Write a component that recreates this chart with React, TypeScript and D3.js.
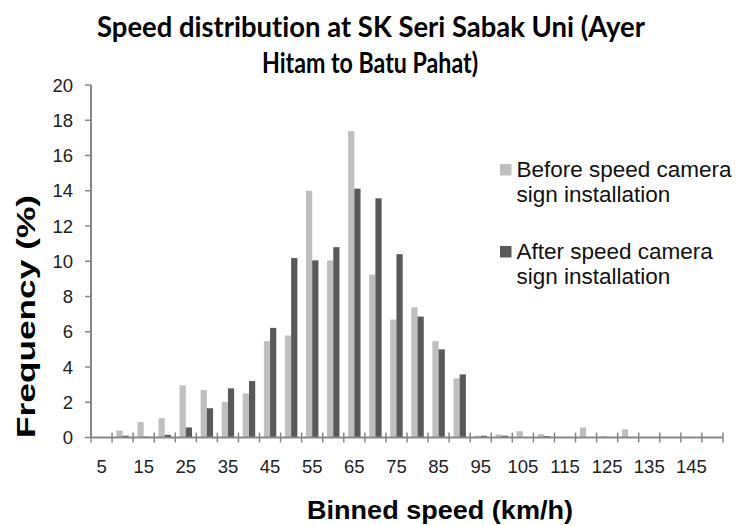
import * as d3 from "d3";
import { useEffect, useRef } from "react";

const CATEGORIES: number[] = d3.range(5, 155, 5);

const BEFORE: number[] = [
  0, 0.4, 0.88, 1.1, 2.96, 2.7, 2.02, 2.5, 5.47, 5.79, 14.0, 10.05, 17.38, 9.24, 6.69,
  7.39, 5.47, 3.36, 0.1, 0.17, 0.36, 0.19, 0, 0.57, 0.08, 0.47, 0, 0, 0, 0,
];

const AFTER: number[] = [
  0, 0.1, 0.05, 0.15, 0.57, 1.66, 2.79, 3.2, 6.22, 10.18, 10.05, 10.8, 14.12, 13.57, 10.4,
  6.86, 5.0, 3.58, 0.1, 0.1, 0, 0.08, 0, 0, 0, 0, 0, 0, 0, 0,
];

const Y_TICKS: number[] = d3.range(0, 22, 2);
const X_LABELS: number[] = d3.range(5, 150, 10);

const SERIES = [
  { key: "before", values: BEFORE, color: "#bfbfbf", label: ["Before speed camera", "sign installation"] },
  { key: "after", values: AFTER, color: "#595959", label: ["After speed camera", "sign installation"] },
];

const WIDTH = 738;
const HEIGHT = 525;
const AXIS_COLOR = "#878787";
const SANS = "'Liberation Sans', Arial, sans-serif";

export default function App() {
  const svgRef = useRef<SVGSVGElement>(null);

  useEffect(() => {
    if (!svgRef.current) return;
    const svg = d3.select(svgRef.current);
    svg.selectAll("*").remove();

    const plot = { left: 91, right: 723, top: 85, bottom: 437.5 };

    const x = d3
      .scaleBand<number>()
      .domain(CATEGORIES)
      .range([plot.left, plot.right])
      .padding(0);
    const bw = x.bandwidth();

    // two bars per bin, centred in the band
    const xSub = d3
      .scaleBand<string>()
      .domain(SERIES.map((s) => s.key))
      .range([bw * 0.205, bw * 0.795])
      .padding(0);

    const y = d3.scaleLinear().domain([0, 20]).range([plot.bottom, plot.top]);

    // Title
    const title = svg
      .append("g")
      .style("font-family", "Lato, 'Open Sans', sans-serif")
      .style("font-weight", "700")
      .style("font-variant-ligatures", "none")
      .style("fill", "#000");
    title
      .append("text")
      .attr("x", 371)
      .attr("y", 37)
      .attr("text-anchor", "middle")
      .attr("textLength", 548)
      .attr("lengthAdjust", "spacingAndGlyphs")
      .style("font-size", "29px")
      .text("Speed distribution at SK Seri Sabak Uni (Ayer");
    title
      .append("text")
      .attr("x", 370)
      .attr("y", 73)
      .attr("text-anchor", "middle")
      .attr("textLength", 216)
      .attr("lengthAdjust", "spacingAndGlyphs")
      .style("font-size", "29px")
      .text("Hitam to Batu Pahat)");

    // Bars
    SERIES.forEach((s) => {
      svg
        .append("g")
        .selectAll("rect")
        .data(s.values)
        .join("rect")
        .attr("x", (_, i) => (x(CATEGORIES[i]) ?? 0) + (xSub(s.key) ?? 0))
        .attr("width", xSub.bandwidth())
        .attr("y", (d) => y(d))
        .attr("height", (d) => y(0) - y(d))
        .style("fill", s.color);
    });

    // Y axis
    const yAxis = svg.append("g");
    yAxis
      .append("line")
      .attr("x1", plot.left)
      .attr("x2", plot.left)
      .attr("y1", y(20))
      .attr("y2", y(0))
      .style("stroke", AXIS_COLOR)
      .style("stroke-width", 2);
    yAxis
      .selectAll("line.tick")
      .data(Y_TICKS)
      .join("line")
      .attr("class", "tick")
      .attr("x1", plot.left - 6)
      .attr("x2", plot.left)
      .attr("y1", (d) => y(d))
      .attr("y2", (d) => y(d))
      .style("stroke", AXIS_COLOR)
      .style("stroke-width", 1.5);
    yAxis
      .selectAll("text")
      .data(Y_TICKS)
      .join("text")
      .attr("x", 73)
      .attr("y", (d) => y(d))
      .attr("dy", "0.36em")
      .attr("text-anchor", "end")
      .style("font-family", SANS)
      .style("font-size", "18.5px")
      .style("fill", "#222")
      .text((d) => d);

    // X axis
    const xAxis = svg.append("g");
    xAxis
      .append("line")
      .attr("x1", plot.left)
      .attr("x2", plot.right)
      .attr("y1", plot.bottom)
      .attr("y2", plot.bottom)
      .style("stroke", AXIS_COLOR)
      .style("stroke-width", 2);
    const edges = [...CATEGORIES.map((c) => x(c) ?? 0), plot.right];
    xAxis
      .selectAll("line.tick")
      .data(edges)
      .join("line")
      .attr("class", "tick")
      .attr("x1", (d) => d)
      .attr("x2", (d) => d)
      .attr("y1", plot.bottom - 5)
      .attr("y2", plot.bottom + 5)
      .style("stroke", AXIS_COLOR)
      .style("stroke-width", 1.5);
    xAxis
      .selectAll("text")
      .data(X_LABELS)
      .join("text")
      .attr("x", (d) => (x(d) ?? 0) + bw / 2)
      .attr("y", 473)
      .attr("text-anchor", "middle")
      .style("font-family", SANS)
      .style("font-size", "18.5px")
      .style("fill", "#222")
      .text((d) => d);

    // Axis titles
    svg
      .append("text")
      .attr("x", 440)
      .attr("y", 519)
      .attr("text-anchor", "middle")
      .attr("textLength", 266)
      .attr("lengthAdjust", "spacingAndGlyphs")
      .style("font-family", SANS)
      .style("font-weight", "bold")
      .style("font-size", "25px")
      .text("Binned speed (km/h)");

    svg
      .append("text")
      .attr("transform", "translate(35,316.5) rotate(-90)")
      .attr("text-anchor", "middle")
      .attr("textLength", 243)
      .attr("lengthAdjust", "spacingAndGlyphs")
      .style("font-family", SANS)
      .style("font-weight", "bold")
      .style("font-size", "26px")
      .text("Frequency (%)");

    // Legend
    const legendTops = [164, 246];
    SERIES.forEach((s, i) => {
      const item = svg.append("g").attr("transform", `translate(500, ${legendTops[i]})`);
      item
        .append("rect")
        .attr("width", 11.5)
        .attr("height", 11.5)
        .style("fill", s.color);
      s.label.forEach((line, j) => {
        item
          .append("text")
          .attr("x", 16.5)
          .attr("y", 13 + j * 24.5)
          .style("font-family", SANS)
          .style("font-size", "22.5px")
          .style("fill", "#111")
          .text(line);
      });
    });
  }, []);

  return (
    <svg
      ref={svgRef}
      width={WIDTH}
      height={HEIGHT}
      style={{ position: "absolute", left: 0, top: 0, background: "#fff" }}
    />
  );
}
